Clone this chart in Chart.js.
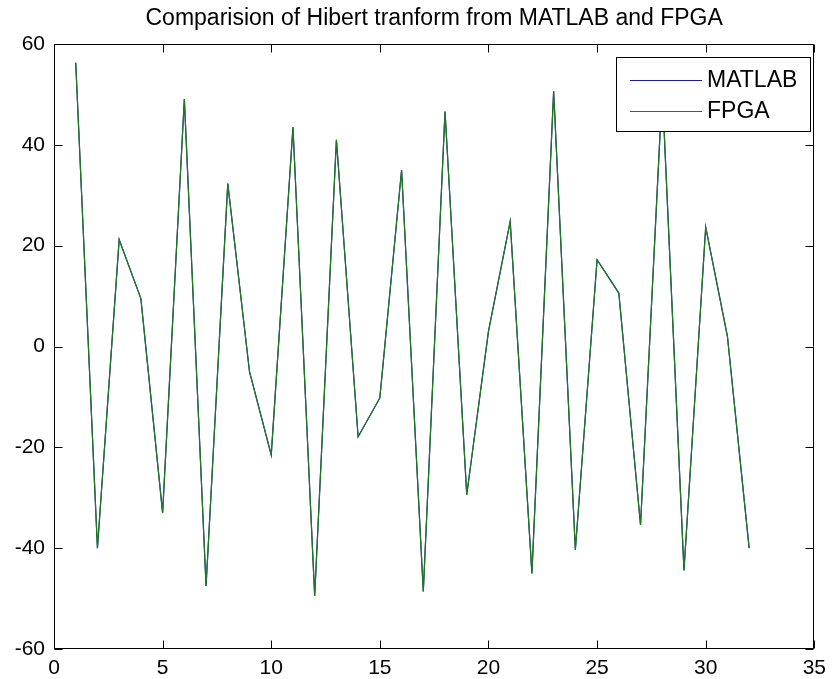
<!DOCTYPE html>
<html>
<head>
<meta charset="utf-8">
<script src="https://cdn.jsdelivr.net/npm/chart.js@4/dist/chart.umd.min.js"></script>
<style>
  html, body { margin: 0; padding: 0; background: #ffffff; }
  #wrap { width: 833px; height: 679px; }
</style>
</head>
<body>
<div id="wrap"><canvas id="c" width="833" height="679"></canvas></div>
<script>
const titleText = 'Comparision of Hibert tranform from MATLAB and FPGA';
const sampleIndex = [1,2,3,4,5,6,7,8,9,10,11,12,13,14,15,16,17,18,19,20,21,22,23,24,25,26,27,28,29,30,31,32];
const matlabValues = [56.3,-40,21.2,9.5,-33,49.1,-47.5,32.3,-5,-21.5,43.5,-49.5,41,-17.9,-10.2,35,-48.6,46.6,-29.4,3,24.8,-45,50.6,-40.3,17.2,10.6,-35.4,51,-44.4,23.7,2,-40];
const fpgaValues   = [56.3,-40,21.2,9.5,-33,49.1,-47.5,32.3,-5,-21.5,43.5,-49.5,41,-17.9,-10.2,35,-48.6,46.6,-29.4,3,24.8,-45,50.6,-40.3,17.2,10.6,-35.4,51,-44.4,23.7,2,-40];
const xTicks = [0,5,10,15,20,25,30,35];
const yTicks = [-60,-40,-20,0,20,40,60];
const seriesNames = ['MATLAB','FPGA'];
const seriesColors = ['#1c1c9a','#1f7a1f'];

const FONT = '"Liberation Sans", Arial, Helvetica, sans-serif';

const toPts = (vals) => sampleIndex.map((x, i) => ({x: x, y: vals[i]}));

const frameTicks = {
  id: 'frameTicks',
  afterDraw(chart) {
    const ctx = chart.ctx;
    const a = chart.chartArea;
    const xs = chart.scales.x, ys = chart.scales.y;
    const L = Math.round(a.left) + 0.5, R = Math.round(a.right) - 0.5;
    const T = Math.round(a.top) + 0.5, B = Math.round(a.bottom) - 0.5;
    const len = 8;
    ctx.save();
    ctx.strokeStyle = '#000';
    ctx.lineWidth = 1;
    ctx.beginPath();
    ctx.rect(L, T, R - L, B - T);
    xTicks.forEach(v => {
      const px = Math.round(xs.getPixelForValue(v)) + 0.5;
      ctx.moveTo(px, B); ctx.lineTo(px, B - len);
      ctx.moveTo(px, T); ctx.lineTo(px, T + len);
    });
    yTicks.forEach(v => {
      const py = Math.round(ys.getPixelForValue(v)) + 0.5;
      ctx.moveTo(L, py); ctx.lineTo(L + len, py);
      ctx.moveTo(R, py); ctx.lineTo(R - len, py);
    });
    ctx.stroke();

    // legend box
    const bx = 616.5, by = 57.5, bw = 194, bh = 74;
    ctx.fillStyle = '#fff';
    ctx.fillRect(bx, by, bw, bh);
    ctx.strokeRect(bx, by, bw, bh);
    const rows = [80, 111];
    ctx.font = '23px ' + FONT;
    ctx.textBaseline = 'middle';
    ctx.textAlign = 'left';
    seriesNames.forEach((name, i) => {
      ctx.strokeStyle = seriesColors[i];
      ctx.beginPath();
      ctx.moveTo(630, rows[i] + 0.5);
      ctx.lineTo(702, rows[i] + 0.5);
      ctx.stroke();
      ctx.fillStyle = '#000';
      ctx.fillText(name, 707, rows[i] + 1);
    });
    ctx.restore();
  }
};

new Chart(document.getElementById('c'), {
  type: 'line',
  data: {
    datasets: [
      { label: seriesNames[0], data: toPts(matlabValues), borderColor: seriesColors[0], borderWidth: 1.2, pointRadius: 0, tension: 0, fill: false, order: 1 },
      { label: seriesNames[1], data: toPts(fpgaValues), borderColor: seriesColors[1], borderWidth: 1.2, pointRadius: 0, tension: 0, fill: false, order: 0 }
    ]
  },
  options: {
    responsive: false,
    animation: false,
    events: [],
    layout: { padding: { left: 0, right: 14, top: 0, bottom: 0 } },
    plugins: {
      legend: { display: false },
      tooltip: { enabled: false },
      title: {
        display: true,
        text: titleText,
        fullSize: false,
        color: '#000',
        font: { family: FONT, size: 23, weight: 'normal', lineHeight: 1.2 },
        padding: { top: 4.7, bottom: 11.7 }
      }
    },
    scales: {
      x: {
        type: 'linear',
        min: 0, max: 35,
        afterFit(s) { s.height = 30; },
        afterBuildTicks(s) { s.ticks = xTicks.map(v => ({value: v})); },
        grid: { display: false, drawTicks: false },
        border: { display: false },
        ticks: { color: '#000', padding: 7, maxRotation: 0, autoSkip: false, font: { family: FONT, size: 21 } }
      },
      y: {
        type: 'linear',
        min: -60, max: 60,
        afterFit(s) { s.width = 54; },
        afterBuildTicks(s) { s.ticks = yTicks.map(v => ({value: v})); },
        grid: { display: false, drawTicks: false },
        border: { display: false },
        ticks: { color: '#000', padding: 9, autoSkip: false, font: { family: FONT, size: 21 } }
      }
    }
  },
  plugins: [frameTicks]
});
</script>
</body>
</html>
